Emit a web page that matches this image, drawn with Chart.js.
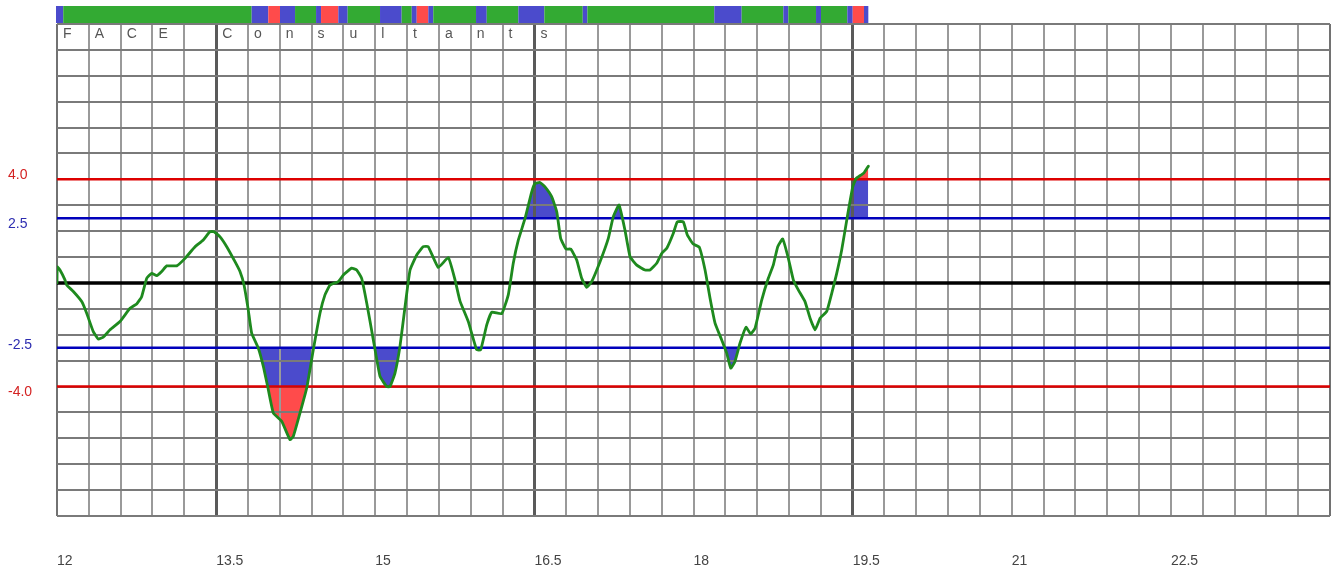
<!DOCTYPE html>
<html>
<head>
<meta charset="utf-8">
<script src="https://cdn.jsdelivr.net/npm/chart.js@4.4.1/dist/chart.umd.min.js"></script>
<style>
html,body{margin:0;padding:0;background:#fff;overflow:hidden}
#wrap{width:1337px;height:574px;position:relative}
canvas{display:block}
</style>
</head>
<body>
<div id="wrap"><canvas id="c" width="1337" height="574"></canvas></div>
<script>
// ---------------- data ----------------
const times = [
  12.000,12.003,12.028,12.075,12.091,12.154,12.233,12.280,12.342,12.389,12.436,12.500,
  12.594,12.688,12.751,12.798,12.846,12.893,12.940,12.987,13.034,13.128,13.207,13.301,
  13.379,13.442,13.480,13.537,13.600,13.678,13.725,13.763,13.803,13.835,13.898,13.945,
  13.986,14.039,14.118,14.196,14.228,14.291,14.354,14.416,14.479,14.526,14.574,14.652,
  14.699,14.778,14.825,14.872,14.920,14.982,15.045,15.108,15.139,15.186,15.233,15.281,
  15.328,15.391,15.453,15.500,15.594,15.689,15.752,15.799,15.877,15.956,15.994,16.051,
  16.098,16.192,16.254,16.301,16.349,16.412,16.475,16.506,16.553,16.600,16.663,16.711,
  16.748,16.798,16.843,16.899,16.946,16.993,17.040,17.119,17.197,17.244,17.298,17.354,
  17.402,17.465,17.543,17.590,17.653,17.700,17.748,17.810,17.847,17.904,17.942,17.998,
  18.055,18.109,18.156,18.203,18.266,18.313,18.351,18.391,18.439,18.495,18.539,18.580,
  18.643,18.705,18.752,18.794,18.841,18.894,18.941,18.988,19.051,19.099,19.146,19.193,
  19.256,19.303,19.350,19.397,19.450,19.501,19.532,19.576,19.607,19.648
];
const values = [
  0.00,0.62,0.50,0.12,-0.08,-0.33,-0.72,-1.17,-1.88,-2.17,-2.09,-1.81,
  -1.49,-0.98,-0.81,-0.53,0.18,0.37,0.28,0.44,0.66,0.66,0.95,1.40,
  1.66,1.98,1.98,1.78,1.40,0.82,0.44,-0.08,-1.04,-1.94,-2.52,-3.22,
  -4.00,-5.02,-5.34,-6.05,-5.92,-5.02,-4.06,-2.58,-1.17,-0.46,-0.08,0.05,
  0.31,0.57,0.50,0.18,-0.78,-2.20,-3.61,-4.00,-4.00,-3.48,-2.45,-0.91,
  0.50,1.08,1.40,1.40,0.60,0.98,0.12,-0.70,-1.49,-2.58,-2.58,-1.62,
  -1.13,-1.19,-0.46,0.76,1.66,2.49,3.52,3.84,3.88,3.71,3.33,2.75,
  1.72,1.31,1.31,0.89,0.18,-0.17,0.05,0.82,1.72,2.56,3.01,2.04,
  1.01,0.69,0.50,0.50,0.76,1.14,1.34,1.92,2.36,2.36,1.85,1.50,
  1.38,0.50,-0.59,-1.55,-2.20,-2.71,-3.29,-3.03,-2.32,-1.71,-1.97,-1.75,
  -0.66,0.18,0.69,1.40,1.70,0.95,0.12,-0.27,-0.72,-1.36,-1.81,-1.36,
  -1.10,-0.40,0.37,1.27,2.56,3.71,4.03,4.16,4.25,4.51
];
const xTickLabels = [12, 13.5, 15, 16.5, 18, 19.5, 21, 22.5];
const xMajorLines = [13.5, 16.5, 19.5];
const thresholdValues = [4, 2.5, -2.5, -4];
const thresholdLabels = ['4.0', '2.5', '-2.5', '-4.0'];
const zeroValue = 0;
const headerText = 'FACE Consultants';
const stripEdges = [
  12.000,12.059,13.835,13.992,14.102,14.244,14.442,14.489,14.652,14.740,15.045,15.249,
  15.344,15.391,15.500,15.547,15.950,16.051,16.349,16.594,16.956,17.000,18.196,18.454,
  18.847,18.894,19.155,19.202,19.450,19.501,19.607,19.648
];
const stripStates = [
  'b','g','b','r','b','g','b','r','b','g','b','g',
  'b','r','b','g','b','g','b','g','b','g','b','g',
  'b','g','b','g','b','r','b'
];

// ---------------- styles ----------------
const COL = { g:'#33aa33', b:'#4b4bcc', r:'#ff4b4b' };
const THR_COL = ['#dd0000', '#0000bb', '#0000bb', '#dd0000'];
const LBL_COL = ['#d42222', '#2d2db0', '#2d2db0', '#d42222'];
const LBL_OFF = [-4, 6, -3, 6];
const FONT = "'Liberation Sans', Arial, sans-serif";
const X_MIN = 12, X_MAX = 24, Y_MIN = -9, Y_MAX = 10;
const CELL = 0.3;

const gridX = [];
for (let k = 0; k <= Math.round((X_MAX - X_MIN) / CELL); k++) gridX.push(Math.round((X_MIN + k * CELL) * 10) / 10);

const pts = times.map((t, i) => ({ x: t, y: values[i] }));
const TENSION = 0.12;
const clear = 'rgba(0,0,0,0)';

function hLine(v, color, w) {
  return { type:'line', data:[{x:X_MIN,y:v},{x:X_MAX,y:v}], borderColor:color, borderWidth:w,
           pointRadius:0, fill:false, tension:0 };
}
function fillDs(target, side, color, order) {
  return { type:'line', data:pts, borderColor:clear, borderWidth:0, pointRadius:0, tension:TENSION, order,
           fill:{ target:{value:target}, above: side === 'above' ? color : clear, below: side === 'below' ? color : clear } };
}

const datasets = [
  { type:'line', data:pts, borderColor:'#1e8a1e', borderWidth:2.8, pointRadius:0, fill:false, tension:TENSION,
    borderJoinStyle:'round', borderCapStyle:'round' },
  ...thresholdValues.map((v, i) => hLine(v, THR_COL[i], 2.5)),
  hLine(zeroValue, '#000000', 3.5),
  fillDs(thresholdValues[1], 'above', COL.b, 4),
  fillDs(thresholdValues[2], 'below', COL.b, 4),
  fillDs(thresholdValues[0], 'above', COL.r, 3),
  fillDs(thresholdValues[3], 'below', COL.r, 3)
];
const onTop = [1, 2, 3, 4, 5, 0];

const overlay = {
  id: 'overlay',
  beforeDatasetDraw(chart, args) {
    if (onTop.includes(args.index) && !chart.$drawingTop) return false;
  },
  afterDraw(chart) {
    const { ctx, chartArea: a, scales: { x, y } } = chart;
    ctx.save();
    ctx.beginPath();
    ctx.rect(a.left, a.top, a.right - a.left, a.bottom - a.top);
    ctx.clip();
    chart.$drawingTop = true;
    onTop.forEach(i => chart.getDatasetMeta(i).controller.draw());
    chart.$drawingTop = false;
    ctx.restore();

    ctx.save();
    for (let i = 0; i < stripStates.length; i++) {
      const x0 = x.getPixelForValue(stripEdges[i]);
      const x1 = x.getPixelForValue(stripEdges[i + 1]);
      ctx.fillStyle = COL[stripStates[i]];
      ctx.fillRect(x0 - (i === 0 ? 1 : 0), a.top - 18, x1 - x0 + (i === 0 ? 1 : 0), 17);
    }
    ctx.fillStyle = '#555';
    ctx.font = '14px ' + FONT;
    ctx.textBaseline = 'middle';
    ctx.textAlign = 'left';
    for (let i = 0; i < headerText.length; i++) {
      const ch = headerText[i];
      if (ch === ' ') continue;
      ctx.fillText(ch, x.getPixelForValue(gridX[i]) + 6, a.top + 10);
    }
    for (let i = 0; i < thresholdValues.length; i++) {
      ctx.fillStyle = LBL_COL[i];
      ctx.fillText(thresholdLabels[i], 8, y.getPixelForValue(thresholdValues[i]) + LBL_OFF[i]);
    }
    ctx.restore();
  }
};

new Chart(document.getElementById('c'), {
  type: 'line',
  data: { datasets },
  options: {
    responsive: false,
    animation: false,
    devicePixelRatio: 1,
    events: [],
    layout: { padding: { left: 57, right: 7, top: 24, bottom: 0 } },
    plugins: { legend: { display: false }, tooltip: { enabled: false } },
    scales: {
      x: {
        type: 'linear', min: X_MIN, max: X_MAX,
        afterBuildTicks: s => { s.ticks = gridX.map(v => ({ value: v })); },
        afterFit: s => { s.paddingLeft = 0; s.paddingRight = 0; s.height = 58; },
        ticks: {
          autoSkip: false, maxRotation: 0, minRotation: 0, align: 'start', padding: 37,
          color: '#444', font: { family: FONT, size: 14 },
          callback: v => { const r = Math.round(v * 10) / 10; return xTickLabels.includes(r) ? String(r) : ''; }
        },
        grid: {
          z: 1,
          drawTicks: false,
          color: c => { const v = Math.round(c.tick.value * 10) / 10; return xMajorLines.includes(v) ? '#5a5a5a' : (v === X_MIN || v === X_MAX ? '#727272' : '#9a9a9a'); },
          lineWidth: c => { const v = Math.round(c.tick.value * 10) / 10; return xMajorLines.includes(v) ? 3 : 2; }
        },
        border: { display: false }
      },
      y: {
        type: 'linear', min: Y_MIN, max: Y_MAX,
        ticks: { display: false, stepSize: 1 },
        grid: { z: 1, drawTicks: false, color: '#7a7a7a', lineWidth: 2 },
        border: { display: false }
      }
    }
  },
  plugins: [overlay]
});
</script>
</body>
</html>
